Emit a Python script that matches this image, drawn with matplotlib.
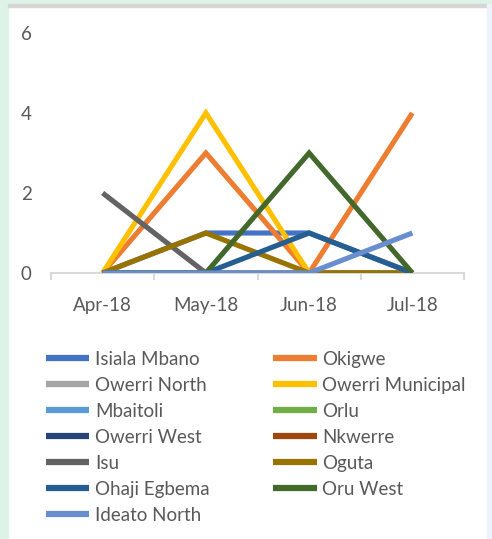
import matplotlib
matplotlib.use("Agg")
import matplotlib.pyplot as plt
from matplotlib.patches import Rectangle

months = ["Apr-18", "May-18", "Jun-18", "Jul-18"]

isiala_mbano = [0, 1, 1, 0]
okigwe = [0, 3, 0, 4]
owerri_north = [0, 0, 0, 0]
owerri_municipal = [0, 4, 0, 0]
mbaitoli = [0, 0, 0, 0]
orlu = [0, 0, 0, 0]
owerri_west = [0, 0, 0, 0]
nkwerre = [0, 0, 0, 0]
isu = [2, 0, 0, 0]
oguta = [0, 1, 0, 0]
ohaji_egbema = [0, 0, 1, 0]
oru_west = [0, 0, 3, 0]
ideato_north = [0, 0, 0, 1]

names = ["Isiala Mbano", "Okigwe", "Owerri North", "Owerri Municipal", "Mbaitoli",
         "Orlu", "Owerri West", "Nkwerre", "Isu", "Oguta", "Ohaji Egbema",
         "Oru West", "Ideato North"]
series = [isiala_mbano, okigwe, owerri_north, owerri_municipal, mbaitoli, orlu,
          owerri_west, nkwerre, isu, oguta, ohaji_egbema, oru_west, ideato_north]
colors = ["#4472C4", "#ED7D31", "#A5A5A5", "#FFC000", "#5B9BD5", "#70AD47",
          "#264478", "#9E480E", "#636363", "#997300", "#255E91", "#43682B",
          "#698ED0"]

plt.rcParams["font.family"] = ["Lato", "DejaVu Sans"]
text_color = "#595959"

W, H = 492, 539
fig = plt.figure(figsize=(W / 100, H / 100), dpi=100)

# screenshot frame bits
fig.patches.append(Rectangle((0, 0), 8 / W, 1, transform=fig.transFigure,
                             color="#DDF3E7", zorder=0))
fig.patches.append(Rectangle((0, 1 - 4 / H), 1, 4 / H, transform=fig.transFigure,
                             color="#DDF3E7", zorder=0))
fig.patches.append(Rectangle((8 / W, 1 - 7 / H), 1, 3 / H, transform=fig.transFigure,
                             color="#D6D6D6", zorder=0))
fig.patches.append(Rectangle((487 / W, 0), 5 / W, 1 - 4 / H, transform=fig.transFigure,
                             color="#EEF3FB", zorder=0))

ax = fig.add_axes([51 / W, 266 / H, 413 / W, 240 / H])
x = list(range(len(months)))
lines = []
for name, vals, c in zip(names, series, colors):
    ln, = ax.plot(x, vals, color=c, lw=3.7, label=name, solid_capstyle="butt",
                  solid_joinstyle="miter")
    lines.append(ln)

ax.set_xlim(-0.5, 3.5)
ax.set_ylim(0, 6)
ax.set_yticks([0, 2, 4, 6])
ax.set_xticks([-0.5, 0.5, 1.5, 2.5, 3.5])
ax.set_xticklabels([])
ax.set_xticks(x, minor=True)
ax.set_xticklabels(months, minor=True)
ax.tick_params(axis="x", which="major", length=5, width=1.5, color="#D9D9D9")
ax.tick_params(axis="x", which="minor", length=0, pad=17, labelsize=13.5,
               labelcolor=text_color)
ax.tick_params(axis="y", length=0, pad=14, labelsize=13.5, labelcolor=text_color)
for s in ["top", "right", "left"]:
    ax.spines[s].set_visible(False)
ax.spines["bottom"].set_color("#D9D9D9")
ax.spines["bottom"].set_linewidth(1.5)
ax.spines["bottom"].set_zorder(0)

leg = fig.legend(handles=lines[0::2] + lines[1::2], ncol=2, loc="upper left",
                 bbox_to_anchor=(29 / W, 1 - 334 / H), frameon=False,
                 fontsize=13.5, handlelength=2.3, handletextpad=0.32,
                 columnspacing=3.4, labelspacing=0.48, labelcolor=text_color)
for h in leg.legend_handles:
    h.set_linewidth(4.5)

fig.savefig("out.png", dpi=100, facecolor="white")
